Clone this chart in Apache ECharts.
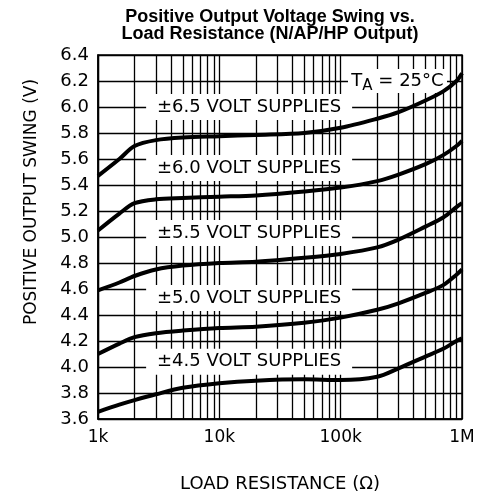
<!DOCTYPE html>
<html>
<head>
<meta charset="utf-8">
<script src="https://cdn.jsdelivr.net/npm/echarts@6/dist/echarts.min.js"></script>
<style>
  html, body { margin: 0; background: #fff; }
  #chart { width: 482px; height: 498px; }
</style>
</head>
<body>
<div id="chart"></div>
<script>
// load resistance (ohm), shared by all curves
const resistance = [1000, 1500, 2000, 3000, 5000, 10000, 20000, 50000, 100000, 200000, 300000, 500000, 700000, 900000, 1000000];
// positive output swing (V) per supply
const swing65 = [5.47, 5.60, 5.70, 5.745, 5.765, 5.775, 5.785, 5.80, 5.84, 5.91, 5.96, 6.05, 6.12, 6.20, 6.26];
const swing60 = [5.05, 5.18, 5.26, 5.29, 5.30, 5.31, 5.32, 5.35, 5.38, 5.43, 5.48, 5.56, 5.63, 5.70, 5.74];
const swing55 = [4.59, 4.65, 4.70, 4.75, 4.78, 4.80, 4.81, 4.84, 4.87, 4.92, 4.98, 5.08, 5.15, 5.23, 5.26];
const swing50 = [4.10, 4.18, 4.23, 4.26, 4.28, 4.30, 4.31, 4.34, 4.38, 4.44, 4.49, 4.57, 4.63, 4.71, 4.75];
const swing45 = [3.655, 3.71, 3.745, 3.79, 3.84, 3.875, 3.895, 3.905, 3.90, 3.925, 3.99, 4.08, 4.14, 4.20, 4.22];

// curve labels, anchored in data units
const supplyText = ['±6.5 VOLT SUPPLIES', '±6.0 VOLT SUPPLIES', '±5.5 VOLT SUPPLIES', '±5.0 VOLT SUPPLIES', '±4.5 VOLT SUPPLIES'];
const supplyAtR = [17600, 17600, 17600, 17600, 17600];
const supplyAtV = [6.0, 5.53, 5.03, 4.53, 4.04];
const tempAt = [294000, 6.2];

// log grid lines between decades
const minorGrid = [2e3, 3e3, 4e3, 5e3, 6e3, 7e3, 8e3, 9e3,
                   2e4, 3e4, 4e4, 5e4, 6e4, 7e4, 8e4, 9e4,
                   2e5, 3e5, 4e5, 5e5, 6e5, 7e5, 8e5, 9e5];
const xTickText = {1000: '1k', 10000: '10k', 100000: '100k', 1000000: '1M'};

const FONT = 'DejaVu Sans';

const curve = (vals) => ({
    type: 'line',
    data: resistance.map((r, i) => [r, vals[i]]),
    smooth: 0.3,
    symbol: 'none',
    silent: true,
    z: 6,
    lineStyle: {color: '#000', width: 4}
});

// white boxes behind the labels so the grid is cut there
const labelData = supplyText.map((t, i) => ({
    value: [supplyAtR[i], supplyAtV[i]],
    symbolSize: [206, 26],
    label: {formatter: t}
}));
labelData.push({
    value: tempAt,
    symbolSize: [99, 24],
    label: {
        formatter: '{t|T}{s|A}{t| = 25°C}',
        rich: {
            t: {fontFamily: FONT, fontSize: 18, color: '#000', lineHeight: 18},
            s: {fontFamily: FONT, fontSize: 15, color: '#000', lineHeight: 15, padding: [10, 0, 0, 0]}
        }
    }
});

const chart = echarts.init(document.getElementById('chart'));
chart.setOption({
    backgroundColor: '#fff',
    animation: false,
    title: {
        text: 'Positive Output Voltage Swing vs.\nLoad Resistance (N/AP/HP Output)',
        left: 270,
        top: 9,
        textAlign: 'center',
        padding: 0,
        textStyle: {fontFamily: 'Liberation Sans', fontWeight: 'bold', fontSize: 18, lineHeight: 17, color: '#000'}
    },
    grid: {left: 98, right: 20, top: 55, bottom: 79, show: true, borderColor: '#000', borderWidth: 1.5, backgroundColor: 'transparent'},
    xAxis: {
        type: 'log',
        logBase: 10,
        min: 1000,
        max: 1000000,
        name: 'LOAD RESISTANCE (Ω)',
        nameLocation: 'middle',
        nameGap: 56,
        nameTextStyle: {fontFamily: FONT, fontSize: 18, color: '#000'},
        axisLine: {lineStyle: {color: '#000', width: 1.5}},
        axisTick: {show: false},
        axisLabel: {
            fontFamily: FONT, fontSize: 17, color: '#000', margin: 10,
            formatter: (v) => xTickText[Math.round(v)] || ''
        },
        splitLine: {show: true, lineStyle: {color: '#000', width: 1.3}}
    },
    yAxis: {
        type: 'value',
        min: 3.6,
        max: 6.4,
        interval: 0.2,
        name: 'POSITIVE OUTPUT SWING (V)',
        nameLocation: 'middle',
        nameRotate: 90,
        nameGap: 58,
        nameTextStyle: {fontFamily: FONT, fontSize: 17, color: '#000', padding: [0, 0, 0, 70]},
        axisLine: {show: true, lineStyle: {color: '#000', width: 1.5}},
        axisTick: {show: false},
        axisLabel: {
            fontFamily: FONT, fontSize: 18, color: '#000', margin: 9,
            formatter: (v) => v.toFixed(1)
        },
        splitLine: {show: true, lineStyle: {color: '#000', width: 1.3}}
    },
    series: [
        {
            type: 'line',
            data: [],
            silent: true,
            z: 1,
            markLine: {
                silent: true,
                z: 1,
                symbol: 'none',
                label: {show: false},
                lineStyle: {color: '#000', width: 1.3, type: 'solid'},
                data: minorGrid.map((v) => ({xAxis: v}))
            }
        },
        {
            type: 'scatter',
            data: labelData,
            symbol: 'rect',
            silent: true,
            z: 3,
            itemStyle: {color: '#fff', opacity: 1},
            label: {
                show: true,
                position: 'inside',
                align: 'center',
                verticalAlign: 'middle',
                fontFamily: FONT,
                fontSize: 18,
                color: '#000'
            }
        },
        curve(swing65),
        curve(swing60),
        curve(swing55),
        curve(swing50),
        curve(swing45)
    ]
});
</script>
</body>
</html>
